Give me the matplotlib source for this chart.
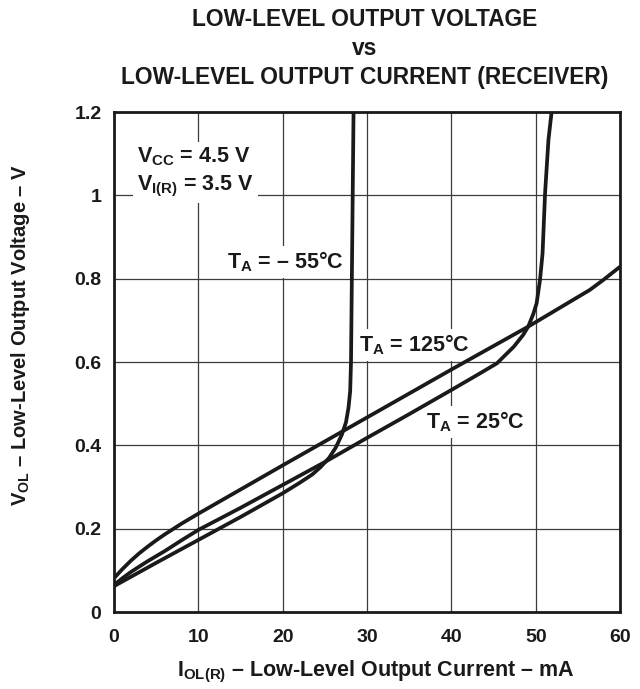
#!/usr/bin/env python3
"""
Receiver V_OL vs I_OL curves at three temperatures (datasheet style figure).
Values read off the reference plot.
"""
import matplotlib
matplotlib.use("Agg")
import matplotlib.pyplot as plt

FONT = "Liberation Sans"
INK = "#1a1a1a"
GRID = "#3c3c3c"

plt.rcParams["font.family"] = [FONT, "DejaVu Sans"]
plt.rcParams["font.weight"] = "bold"
plt.rcParams["axes.labelweight"] = "bold"
plt.rcParams["mathtext.fontset"] = "custom"
plt.rcParams["mathtext.rm"] = FONT + ":bold"
plt.rcParams["mathtext.it"] = FONT + ":bold"
plt.rcParams["mathtext.bf"] = FONT + ":bold"
plt.rcParams["mathtext.default"] = "rm"

# ---- data (mA, V) --------------------------------------------------------
i_m55 = [0, 5, 10, 15, 20, 22, 23.5, 24.5, 25.5, 26.3, 27.0, 27.5, 27.8,
         28.0, 28.1, 28.2, 28.3, 28.4]
v_m55 = [0.062, 0.118, 0.173, 0.228, 0.285, 0.31, 0.33, 0.348, 0.37, 0.395,
         0.425, 0.455, 0.49, 0.53, 0.6, 0.8, 1.0, 1.2]

i_25 = [0, 1, 2, 3, 4, 6, 8, 10, 15, 20, 25, 30, 35, 40, 43.4, 45.4, 47.4,
        48.5, 49.1, 49.7, 50.1, 50.5, 50.8, 51.1, 51.5, 51.9]
v_25 = [0.065, 0.081, 0.096, 0.109, 0.122, 0.146, 0.172, 0.197, 0.25, 0.305,
        0.36, 0.418, 0.475, 0.533, 0.573, 0.597, 0.637, 0.665, 0.685, 0.715,
        0.741, 0.797, 0.86, 1.005, 1.133, 1.205]

i_125 = [0, 1, 2, 3, 4, 5, 6, 7, 8, 10, 20, 30, 40, 49.1, 56.4, 58, 60]
v_125 = [0.081, 0.103, 0.123, 0.141, 0.157, 0.172, 0.186, 0.199, 0.212,
         0.236, 0.352, 0.467, 0.582, 0.685, 0.773, 0.797, 0.829]

x_ticks = [0, 10, 20, 30, 40, 50, 60]
y_ticks = [0, 0.2, 0.4, 0.6, 0.8, 1.0, 1.2]
y_tick_labels = ["0", "0.2", "0.4", "0.6", "0.8", "1", "1.2"]


def main():
    fig = plt.figure(figsize=(6.4, 6.89), dpi=100)
    ax = fig.add_axes([0.178, 0.1117, 0.791, 0.7257])

    ax.set_xlim(0, 60)
    ax.set_ylim(0, 1.2)
    ax.set_xticks(x_ticks)
    ax.set_yticks(y_ticks)
    ax.set_yticklabels(y_tick_labels)
    ax.tick_params(length=0, labelsize=14, colors=INK)
    ax.tick_params(axis="x", pad=12)
    ax.tick_params(axis="y", pad=9)
    ax.grid(True, color=GRID, lw=0.9, zorder=0)
    ax.set_axisbelow(True)
    for s in ax.spines.values():
        s.set_linewidth(2.0)
        s.set_color(INK)

    for xs, ys in [(i_m55, v_m55), (i_25, v_25), (i_125, v_125)]:
        ax.plot(xs, ys, color=INK, lw=2.7, zorder=4, solid_capstyle="butt")

    fs = 15.5
    box = dict(facecolor="white", edgecolor="none", pad=3)
    ax.text(2.7, 1.092, r"$V_{CC}$ = 4.5 V", ha="left", va="center",
            fontsize=fs, color=INK, bbox=box, zorder=2)
    ax.text(2.7, 1.022, r"$V_{I(R)}$ = 3.5 V", ha="left", va="center",
            fontsize=fs, color=INK, bbox=box, zorder=2)
    ax.text(20.3, 0.84, r"$T_A$ = – 55°C", ha="center", va="center",
            fontsize=fs, color=INK, bbox=box, zorder=2)
    ax.text(35.6, 0.641, r"$T_A$ = 125°C", ha="center", va="center",
            fontsize=fs, color=INK, bbox=box, zorder=2)
    ax.text(42.8, 0.456, r"$T_A$ = 25°C", ha="center", va="center",
            fontsize=fs, color=INK, bbox=box, zorder=2)

    ax.set_xlabel(r"$I_{OL(R)}$ – Low-Level Output Current – mA",
                  fontsize=15.5, color=INK)
    ax.xaxis.set_label_coords(0.518, -0.094)
    ax.set_ylabel(r"$V_{OL}$ – Low-Level Output Voltage – V",
                  fontsize=14.5, color=INK)
    ax.yaxis.set_label_coords(-0.162, 0.555)

    for y, t in [(0.971, "LOW-LEVEL OUTPUT VOLTAGE"), (0.929, "vs"),
                 (0.887, "LOW-LEVEL OUTPUT CURRENT (RECEIVER)")]:
        fig.text(0.570, y, t, ha="center", va="center", fontsize=16.4,
                 weight="bold", color=INK)

    fig.savefig("out.png", dpi=100)
    plt.close(fig)


if __name__ == "__main__":
    main()
